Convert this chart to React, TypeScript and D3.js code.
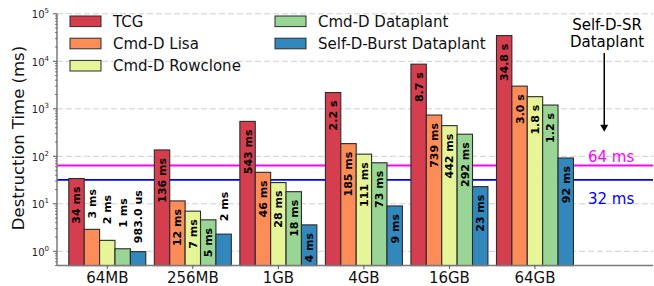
import * as d3 from 'd3'

const categories = ['64MB', '256MB', '1GB', '4GB', '16GB', '64GB']
const seriesNames = ['TCG', 'Cmd-D Lisa', 'Cmd-D Rowclone', 'Cmd-D Dataplant', 'Self-D-Burst Dataplant']
const seriesColors = ['#d53e4f', '#fc8d59', '#e6f598', '#99d594', '#3288bd']

// destruction time in ms
const tcg = [34, 136, 543, 2200, 8700, 34800]
const lisa = [2.9, 11.5, 46, 185, 739, 3000]
const rowclone = [1.7, 7, 28, 111, 442, 1800]
const dataplant = [1.13, 4.6, 18, 73, 292, 1200]
const burst = [0.983, 2.3, 3.6, 9, 23, 92]

const tcgLabels = ['34 ms', '136 ms', '543 ms', '2.2 s', '8.7 s', '34.8 s']
const lisaLabels = ['3 ms', '12 ms', '46 ms', '185 ms', '739 ms', '3.0 s']
const rowcloneLabels = ['2 ms', '7 ms', '28 ms', '111 ms', '442 ms', '1.8 s']
const dataplantLabels = ['1 ms', '5 ms', '18 ms', '73 ms', '292 ms', '1.2 s']
const burstLabels = ['983.0 us', '2 ms', '4 ms', '9 ms', '23 ms', '92 ms']

const yTickExps = [0, 1, 2, 3, 4, 5]
const refLines = [
  { value: 64, label: '64 ms', color: '#ff00ff' },
  { value: 32, label: '32 ms', color: '#0000ff' },
]

const series = [tcg, lisa, rowclone, dataplant, burst]
const seriesLabels = [tcgLabels, lisaLabels, rowcloneLabels, dataplantLabels, burstLabels]

const W = 654
const H = 286
const FONT = 'DejaVu Sans, sans-serif'

export default function App() {
  const x = d3.scaleLinear().domain([-0.588, 6.38]).range([57, 653])
  const y = d3.scaleLog().domain([0.5, 1e5]).range([265.6, 13.8])
  const barW = 0.18
  const bw = x(barW) - x(0)
  const left = x.range()[0]
  const right = x.range()[1]
  const bottom = y.range()[0]

  const minorTicks: number[] = []
  for (let e = -1; e < 5; e++) {
    for (let m = 2; m < 10; m++) {
      const v = m * Math.pow(10, e)
      if (v >= 0.5 && v <= 1e5) minorTicks.push(v)
    }
  }

  // Self-D-SR annotation (data coords)
  const arrowX = x(5.81)
  const arrowTop = y(14900)
  const arrowTip = y(330)

  return (
    <svg width={W} height={H} style={{ position: 'absolute', left: 0, top: 0, background: '#fff' }} fontFamily={FONT}>
      {/* grid */}
      {yTickExps.map(e => (
        <line key={'g' + e} x1={left} x2={right} y1={y(Math.pow(10, e))} y2={y(Math.pow(10, e))}
          stroke="#cfcfcf" strokeWidth={1} strokeDasharray="6,3" />
      ))}

      {/* reference lines */}
      {refLines.map(r => (
        <line key={r.label} x1={left} x2={right} y1={y(r.value)} y2={y(r.value)} stroke={r.color} strokeWidth={1.8} />
      ))}

      {/* bars */}
      {series.map((vals, j) => (
        <g key={'s' + j}>
          {vals.map((v, i) => {
            const cx = x(i + (j - 2) * barW)
            return (
              <rect key={i} x={cx - bw / 2} y={y(v)} width={bw} height={bottom - y(v)}
                fill={seriesColors[j]} stroke="#2b2b2b" strokeWidth={1.1} />
            )
          })}
        </g>
      ))}

      {/* bar labels */}
      {series.map((vals, j) => (
        <g key={'l' + j} fontSize={11} fontWeight="bold" fill="#000">
          {vals.map((v, i) => {
            const cx = x(i + (j - 2) * barW)
            const inside = v >= 3
            const ty = inside ? y(v) + 8 : y(v + (v < 1 ? 0.5 : 2))
            return (
              <text key={i} x={cx} y={ty} dy="0.36em" textAnchor={inside ? 'end' : 'start'}
                transform={`rotate(-90, ${cx}, ${ty})`}>
                {seriesLabels[j][i]}
              </text>
            )
          })}
        </g>
      ))}

      {/* ref line labels */}
      <text x={588} y={y(64) - 4} fontSize={15} fill="#ff00ff">64 ms</text>
      <text x={588} y={y(32) + 24} fontSize={15} fill="#0000ff">32 ms</text>

      {/* arrow annotation */}
      <text x={607} y={30} fontSize={15} textAnchor="middle" fill="#000">Self-D-SR</text>
      <text x={607} y={47} fontSize={15} textAnchor="middle" fill="#000">Dataplant</text>
      <line x1={arrowX} x2={arrowX} y1={arrowTop} y2={arrowTip - 6} stroke="#000" strokeWidth={1.5} />
      <path d={`M${arrowX - 4},${arrowTip - 7} L${arrowX + 4},${arrowTip - 7} L${arrowX},${arrowTip} Z`} fill="#000" />

      {/* y axis */}
      <line x1={left} x2={left} y1={y.range()[1]} y2={bottom} stroke="#7a7a7a" strokeWidth={1.5} />
      {minorTicks.map((v, k) => (
        <line key={'m' + k} x1={left - 2} x2={left} y1={y(v)} y2={y(v)} stroke="#555" strokeWidth={0.8} />
      ))}
      {yTickExps.map(e => {
        const ty = y(Math.pow(10, e))
        return (
          <g key={'t' + e}>
            <line x1={left - 4} x2={left} y1={ty} y2={ty} stroke="#555" strokeWidth={1} />
            <text x={49} y={ty + 4.5} fontSize={10} textAnchor="end" fill="#222">
              <tspan>10</tspan>
              <tspan dy={-5} fontSize={7}>{e}</tspan>
            </text>
          </g>
        )
      })}
      <text transform={`translate(24, 138) rotate(-90)`} textAnchor="middle" fontSize={16.5} fill="#111">
        Destruction Time (ms)
      </text>

      {/* x axis */}
      <line x1={left} x2={right} y1={bottom} y2={bottom} stroke="#7a7a7a" strokeWidth={1.5} />
      {categories.map((c, i) => (
        <g key={c}>
          <line x1={x(i)} x2={x(i)} y1={bottom} y2={bottom + 3.5} stroke="#555" strokeWidth={1} />
          <text x={x(i)} y={283} fontSize={15} textAnchor="middle" fill="#111">{c}</text>
        </g>
      ))}

      {/* legend */}
      {seriesNames.map((name, j) => {
        const col = j < 3 ? 0 : 1
        const row = j < 3 ? j : j - 3
        const sx = col === 0 ? 70 : 275
        const cy = 21.3 + row * 22.2
        return (
          <g key={name}>
            <rect x={sx} y={cy - 5.3} width={31} height={10.6} fill={seriesColors[j]} stroke="#2b2b2b" strokeWidth={1} />
            <text x={sx + 43} y={cy + 5.5} fontSize={15} fill="#111">{name}</text>
          </g>
        )
      })}
    </svg>
  )
}
